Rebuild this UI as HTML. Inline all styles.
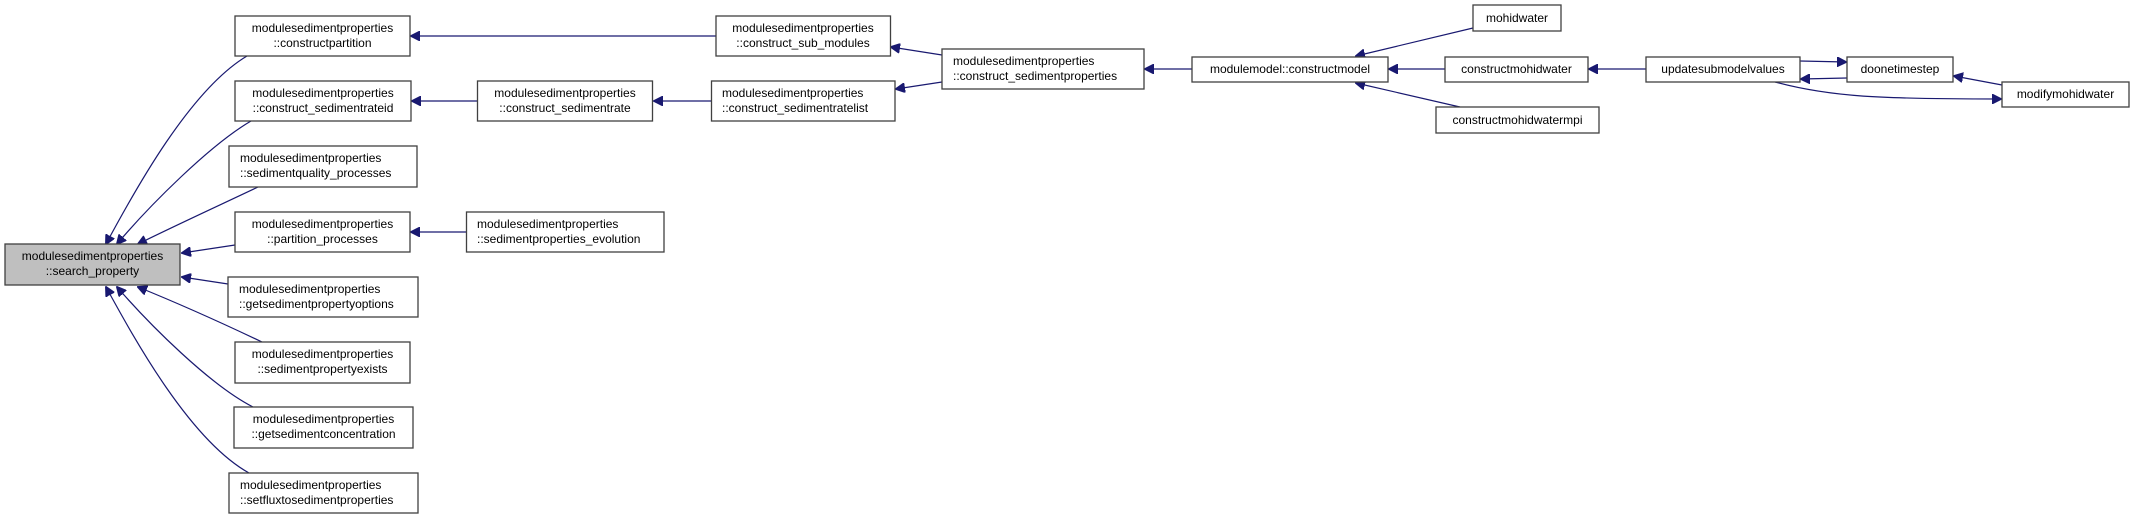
<!DOCTYPE html>
<html><head><meta charset="utf-8"><style>
html,body{margin:0;padding:0;background:#fff;}
svg{display:block;}
text{font-family:"Liberation Sans",Arial,sans-serif;font-size:12px;fill:#000;}
.b{fill:#fff;stroke:#404040;stroke-width:1.3;}
.e{fill:none;stroke:#191970;stroke-width:1.2;}
</style></head><body>
<svg width="2135" height="519" viewBox="0 0 2135 519" xmlns="http://www.w3.org/2000/svg">
<defs><marker id="a" viewBox="0 0 10 10" refX="9" refY="5" markerWidth="10" markerHeight="10" markerUnits="userSpaceOnUse" orient="auto"><path d="M0,0 L10,5 L0,10 z" fill="#191970" stroke="#191970"/></marker></defs>

<!-- edges -->
<g class="e" marker-end="url(#a)">
<path d="M247,56 C190,90 135,190 106,244" marker-end="url(#a)"/>
<path d="M251,121 C210,145 150,205 117,244" marker-end="url(#a)"/>
<path d="M258,187 C220,205 170,228 138,244" marker-end="url(#a)"/>
<path d="M235,245 L182,253" marker-end="url(#a)"/>
<path d="M228,284 L182,277" marker-end="url(#a)"/>
<path d="M262,342 C220,322 170,300 138,287" marker-end="url(#a)"/>
<path d="M253,407 C210,385 150,325 117,287" marker-end="url(#a)"/>
<path d="M249,473 C190,440 135,340 106,287" marker-end="url(#a)"/>
<path d="M716,36 L411,36" marker-end="url(#a)"/>
<path d="M477,101 L412,101" marker-end="url(#a)"/>
<path d="M711,101 L654,101" marker-end="url(#a)"/>
<path d="M466,232 L411,232" marker-end="url(#a)"/>
<path d="M942,55 L891,47" marker-end="url(#a)"/>
<path d="M942,82 L896,89" marker-end="url(#a)"/>
<path d="M1192,69 L1145,69" marker-end="url(#a)"/>
<path d="M1473,28 L1356,56" marker-end="url(#a)"/>
<path d="M1445,69 L1389,69" marker-end="url(#a)"/>
<path d="M1460,107 L1356,83" marker-end="url(#a)"/>
<path d="M1646,69 L1589,69" marker-end="url(#a)"/>
<path d="M1800,61 L1846,62" marker-end="url(#a)"/>
<path d="M1847,78 L1801,79" marker-end="url(#a)"/>
<path d="M1775,82 C1830,97 1880,99 2001,99" marker-end="url(#a)"/>
<path d="M2002,85 L1954,76" marker-end="url(#a)"/>
</g>

<!-- nodes -->
<rect x="5" y="244" width="175" height="41" style="fill:#bfbfbf;stroke:#404040;stroke-width:1.3"/>
<text x="92.5" y="260" text-anchor="middle">modulesedimentproperties</text>
<text x="92.5" y="275" text-anchor="middle">::search_property</text>

<rect class="b" x="235" y="16" width="175" height="40"/>
<text x="322.5" y="32" text-anchor="middle">modulesedimentproperties</text>
<text x="322.5" y="47" text-anchor="middle">::constructpartition</text>

<rect class="b" x="235" y="81" width="176" height="40"/>
<text x="323" y="97" text-anchor="middle">modulesedimentproperties</text>
<text x="323" y="112" text-anchor="middle">::construct_sedimentrateid</text>

<rect class="b" x="229" y="146" width="188" height="41"/>
<text x="240" y="162">modulesedimentproperties</text>
<text x="240" y="177">::sedimentquality_processes</text>

<rect class="b" x="235" y="212" width="175" height="40"/>
<text x="322.5" y="228" text-anchor="middle">modulesedimentproperties</text>
<text x="322.5" y="243" text-anchor="middle">::partition_processes</text>

<rect class="b" x="228" y="277" width="190" height="40"/>
<text x="239" y="293">modulesedimentproperties</text>
<text x="239" y="308">::getsedimentpropertyoptions</text>

<rect class="b" x="235" y="342" width="175" height="41"/>
<text x="322.5" y="358" text-anchor="middle">modulesedimentproperties</text>
<text x="322.5" y="373" text-anchor="middle">::sedimentpropertyexists</text>

<rect class="b" x="234" y="407" width="179" height="41"/>
<text x="323.5" y="423" text-anchor="middle">modulesedimentproperties</text>
<text x="323.5" y="438" text-anchor="middle">::getsedimentconcentration</text>

<rect class="b" x="229" y="473" width="189" height="40"/>
<text x="240" y="489">modulesedimentproperties</text>
<text x="240" y="504">::setfluxtosedimentproperties</text>

<rect class="b" x="477.5" y="81" width="175" height="40"/>
<text x="565" y="97" text-anchor="middle">modulesedimentproperties</text>
<text x="565" y="112" text-anchor="middle">::construct_sedimentrate</text>

<rect class="b" x="466.5" y="212" width="197.5" height="40"/>
<text x="477" y="228">modulesedimentproperties</text>
<text x="477" y="243">::sedimentproperties_evolution</text>

<rect class="b" x="716" y="16" width="174.5" height="40"/>
<text x="803" y="32" text-anchor="middle">modulesedimentproperties</text>
<text x="803" y="47" text-anchor="middle">::construct_sub_modules</text>

<rect class="b" x="711.5" y="81" width="183.5" height="40"/>
<text x="722" y="97">modulesedimentproperties</text>
<text x="722" y="112">::construct_sedimentratelist</text>

<rect class="b" x="942" y="49" width="202" height="40"/>
<text x="953" y="65">modulesedimentproperties</text>
<text x="953" y="80">::construct_sedimentproperties</text>

<rect class="b" x="1192" y="57" width="196" height="25"/>
<text x="1290" y="73" text-anchor="middle">modulemodel::constructmodel</text>

<rect class="b" x="1473" y="5" width="88" height="26"/>
<text x="1517" y="22" text-anchor="middle">mohidwater</text>

<rect class="b" x="1445" y="57" width="143" height="25"/>
<text x="1516.5" y="73" text-anchor="middle">constructmohidwater</text>

<rect class="b" x="1436" y="107" width="163" height="26"/>
<text x="1517.5" y="124" text-anchor="middle">constructmohidwatermpi</text>

<rect class="b" x="1646" y="57" width="154" height="25"/>
<text x="1723" y="73" text-anchor="middle">updatesubmodelvalues</text>

<rect class="b" x="1847" y="57" width="106" height="25"/>
<text x="1900" y="73" text-anchor="middle">doonetimestep</text>

<rect class="b" x="2002" y="82" width="127" height="25"/>
<text x="2065.5" y="98" text-anchor="middle">modifymohidwater</text>
</svg>
</body></html>
